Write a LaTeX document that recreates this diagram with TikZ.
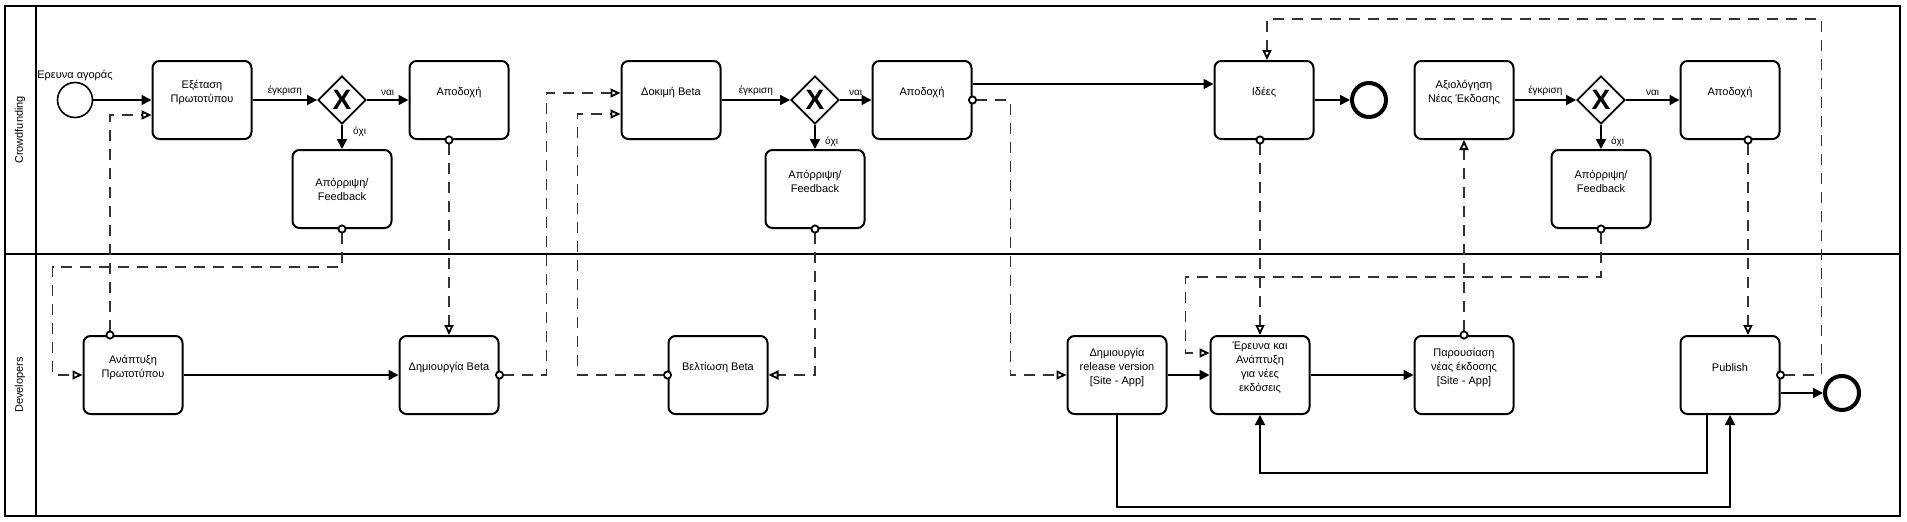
\documentclass[tikz,border=0pt]{standalone}
\usepackage{fontspec}
\setmainfont{Liberation Sans}
\usetikzlibrary{shapes.geometric,arrows.meta}

\newcommand{\tasksize}{\fontsize{11}{14}\selectfont}
\newcommand{\flowsize}{\fontsize{10}{12}\selectfont}
\newcommand{\gatesize}{\fontsize{28}{28}\selectfont\bfseries}

\tikzset{
  task/.style={draw, line width=2pt, rounded corners=7pt, minimum width=99pt, minimum height=78pt, inner sep=0pt},
  tasktext/.style={align=center, font=\tasksize, inner sep=0pt, yshift=7.5pt},
  gate/.style={draw, diamond, line width=1.8pt, minimum width=48pt, minimum height=48pt, inner sep=0pt, font=\gatesize},
  startev/.style={draw, circle, line width=1.6pt, minimum size=35pt, inner sep=0pt},
  endev/.style={draw, circle, line width=4pt, minimum size=34pt, inner sep=0pt},
  flow/.style={line width=1.8pt, -{Triangle[length=10pt,width=10pt]}},
  msg/.style={line width=1.8pt, black!80, dash pattern=on 11pt off 8pt, shorten <=-4.5pt,
    {Circle[length=9pt,fill=white,color=black]}-{Triangle[open,length=10pt,width=9pt,color=black]}},
  lbl/.style={font=\flowsize},
  lane/.style={line width=2pt}
}

\begin{document}
\begin{tikzpicture}[x=1pt, y=-1pt]
  \useasboundingbox (0,0) rectangle (1907,522);
  % lanes
  \draw[lane] (5,6) rectangle (1900,516);
  \draw[lane] (36,6) -- (36,516);
  \draw[lane] (5,254) -- (1900,254);
  \node[rotate=90, font=\tasksize] (crowd) at (20,130) {Crowdfunding};
  \node[rotate=90, font=\tasksize] (dev) at (20,385) {Developers};

  % Crowdfunding
  \node[startev, label={[font=\tasksize, inner sep=1pt]above:Ερευνα αγοράς}] (start) at (75,100) {};
  \node[task, label={[tasktext]center:Εξέταση\\Πρωτοτύπου}] (exam) at (202,100) {};
  \node[gate] (gw1) at (342,100) {X};
  \node[task, label={[tasktext]center:Αποδοχή}] (acc1) at (459,100) {};
  \node[task, label={[tasktext, yshift=-7.5pt]center:Απόρριψη/\\Feedback}] (rej1) at (342,189) {};
  \node[task, label={[tasktext]center:Δοκιμή Beta}] (test) at (671,100) {};
  \node[gate] (gw2) at (815,100) {X};
  \node[task, label={[tasktext]center:Αποδοχή}] (acc2) at (922,100) {};
  \node[task, label={[tasktext]center:Απόρριψη/\\Feedback}] (rej2) at (815,189) {};
  \node[task, label={[tasktext]center:Ιδέες}] (ideas) at (1264,100) {};
  \node[endev] (end1) at (1369,100) {};
  \node[task, label={[tasktext]center:Αξιολόγηση\\Νέας Έκδοσης}] (eval) at (1464,100) {};
  \node[gate] (gw3) at (1601,100) {X};
  \node[task, label={[tasktext]center:Αποδοχή}] (acc3) at (1730,100) {};
  \node[task, label={[tasktext]center:Απόρριψη/\\Feedback}] (rej3) at (1601,189) {};

  % Developers
  \node[task, label={[tasktext]center:Ανάπτυξη\\Πρωτοτύπου}] (proto) at (133,375) {};
  \node[task, label={[tasktext]center:Δημιουργία Beta}] (beta) at (449,375) {};
  \node[task, label={[tasktext]center:Βελτίωση Beta}] (impr) at (718,375) {};
  \node[task, label={[tasktext]center:Δημιουργία\\release version\\{[Site - App]}}] (rel) at (1117,375) {};
  \node[task, label={[tasktext]center:Έρευνα και\\Ανάπτυξη\\για νέες\\εκδόσεις}] (rnd) at (1260,375) {};
  \node[task, label={[tasktext]center:Παρουσίαση\\νέας έκδοσης\\{[Site - App]}}] (pres) at (1464,375) {};
  \node[task, label={[tasktext]center:Publish}] (pub) at (1730,375) {};
  \node[endev] (end2) at (1842,393) {};

  % sequence flows
  \draw[flow] (start) -- (exam);
  \draw[flow] (exam) -- node[above, lbl] {έγκριση} (gw1);
  \draw[flow] (gw1) -- node[above, lbl] {ναι} (acc1);
  \draw[flow] (gw1) -- node[right, lbl, xshift=7pt, yshift=5pt] {όχι} (rej1);
  \draw[flow] (test) -- node[above, lbl] {έγκριση} (gw2);
  \draw[flow] (gw2) -- node[above, lbl] {ναι} (acc2);
  \draw[flow] (gw2) -- node[right, lbl, xshift=6pt, yshift=-5pt] {όχι} (rej2);
  \draw[flow] ([yshift=16pt]acc2.east) -- ([yshift=16pt]ideas.west);
  \draw[flow] (ideas) -- (end1);
  \draw[flow] (eval) -- node[above, lbl] {έγκριση} (gw3);
  \draw[flow] (gw3) -- node[above, lbl] {ναι} (acc3);
  \draw[flow] (gw3) -- node[right, lbl, xshift=6pt, yshift=-5pt] {όχι} (rej3);
  \draw[flow] (proto) -- (beta);
  \draw[flow] (rel) -- (rnd);
  \draw[flow] (rnd) -- (pres);
  \draw[flow] (rel.south) -- ++(0,92) -| (pub.south);
  \draw[flow] ([xshift=-23pt]pub.south) -- ++(0,58) -| (rnd.south);
  \draw[flow] ([yshift=-18pt]pub.east) -- (end2);

  % message flows
  \draw[msg] (rej1.south) -- ++(0,38) -| ([xshift=-30pt]proto.west) -- (proto.west);
  \draw[msg] ([xshift=-23pt]proto.north) |- ([yshift=-15pt]exam.west);
  \draw[msg] ([xshift=-10pt]acc1.south) -- (beta.north);
  \draw[msg] (beta.east) -- ++(47,0) |- ([yshift=7pt]test.west);
  \draw[msg] (impr.west) -- ++(-90,0) |- ([yshift=-14pt]test.west);
  \draw[msg] (rej2.south) |- (impr.east);
  \draw[msg] (acc2.east) -- ++(38,0) |- (rel.west);
  \draw[msg] (rnd.north |- ideas.south) -- (rnd.north);
  \draw[msg] (pres.north) -- (eval.south);
  \draw[msg] (rej3.south) -- ++(0,48) -| ([xshift=-24pt, yshift=22pt]rnd.west) -- ([yshift=22pt]rnd.west);
  \draw[msg] ([xshift=18pt]acc3.south) -- ([xshift=18pt]pub.north);
  \draw[msg] (pub.east) -- ++(41,0) -- ++(0,-356) -| ([xshift=3pt]ideas.north);
\end{tikzpicture}
\end{document}
